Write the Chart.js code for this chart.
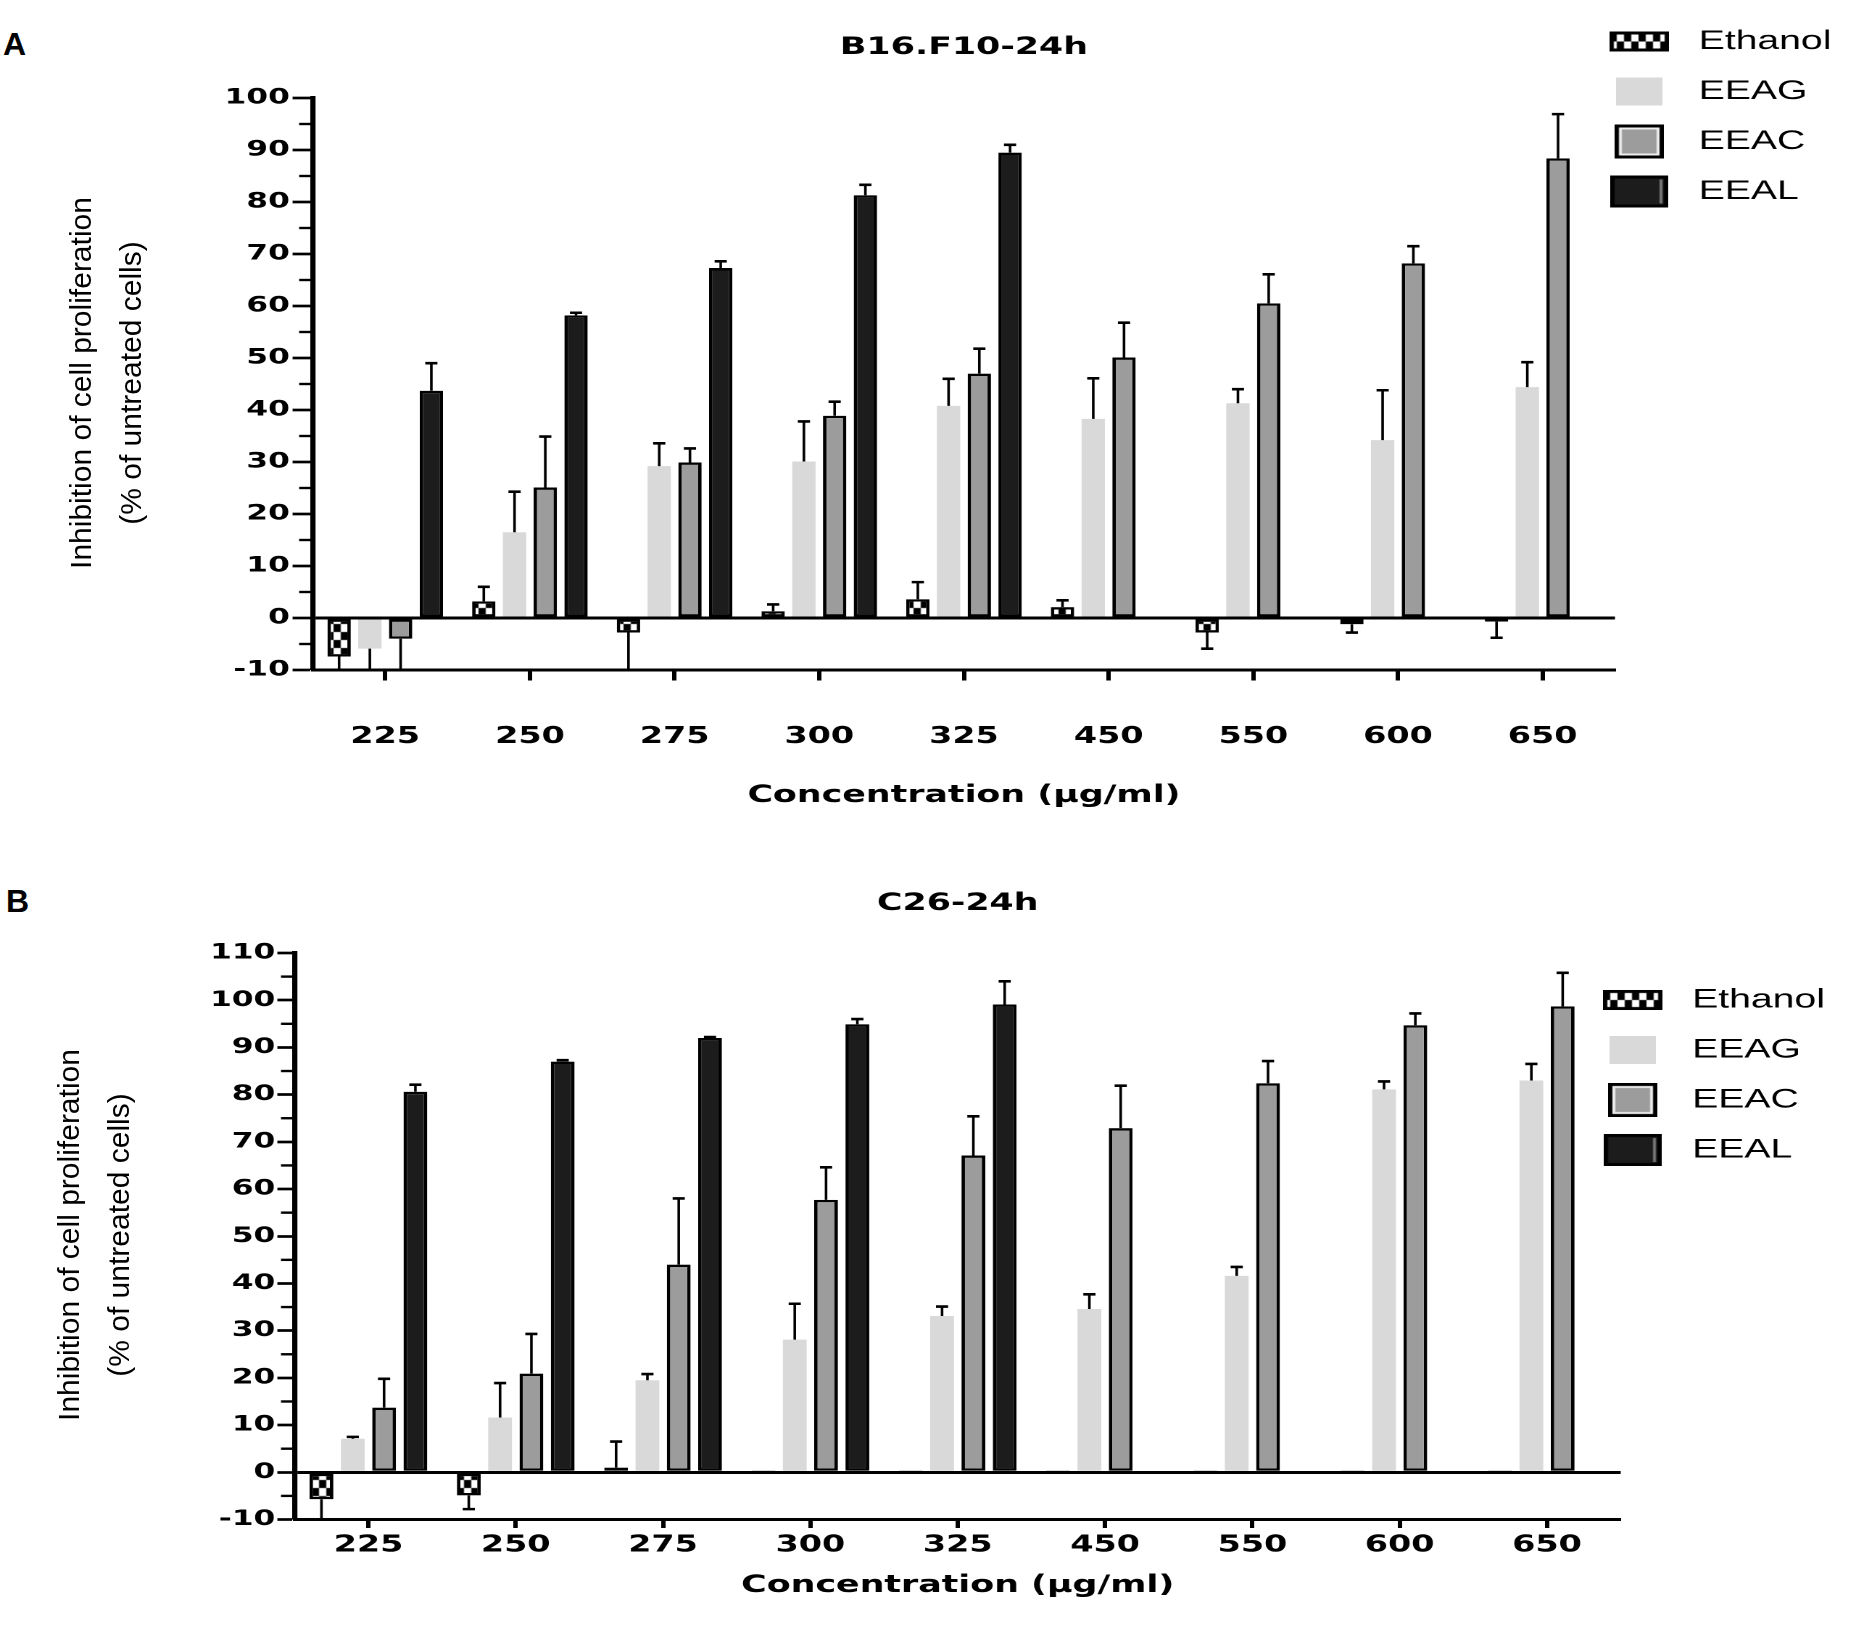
<!DOCTYPE html>
<html>
<head>
<meta charset="utf-8">
<script src="https://cdn.jsdelivr.net/npm/chart.js@4.4.1/dist/chart.umd.min.js"></script>
<style>
html,body{margin:0;padding:0;background:#fff;}
body{width:1872px;height:1629px;position:relative;overflow:hidden;}
.wrap{position:absolute;left:0;width:1291px;transform:scaleX(1.45);transform-origin:0 0;}
.panel{position:absolute;font:bold 32px "Liberation Sans",Arial,sans-serif;color:#000;line-height:37px;}
.ytitle{position:absolute;width:440px;height:100px;font:30px "Liberation Sans",Arial,sans-serif;line-height:50px;text-align:center;color:#000;transform:translate(-50%,-50%) rotate(-90deg);white-space:nowrap;}
</style>
</head>
<body>
<div class="panel" style="left:3px;top:26px">A</div>
<div class="panel" style="left:6px;top:883px">B</div>
<div class="wrap" style="top:0;height:840px"><canvas id="chartA" width="1291" height="840"></canvas></div>
<div class="wrap" style="top:840px;height:789px"><canvas id="chartB" width="1291" height="789"></canvas></div>
<div class="ytitle" style="left:106px;top:383px">Inhibition of cell proliferation<br>(% of untreated cells)</div>
<div class="ytitle" style="left:94px;top:1235px">Inhibition of cell proliferation<br>(% of untreated cells)</div>
<script>
// ---- data ----
const concentrations = ['225', '250', '275', '300', '325', '450', '550', '600', '650'];
const seriesNames = ['Ethanol', 'EEAG', 'EEAC', 'EEAL'];
const xAxisTitle = 'Concentration (µg/ml)';

// Panel A: B16.F10-24h
const titleA = 'B16.F10-24h';
const ethanolA    = [-7.4, 3.2, -2.8, 1.3, 3.6, 2.1, -2.8, -1.2, -0.7];
const ethanolAErr = [3.5, 2.8, 7.5, 1.3, 3.3, 1.3, 3.1, 1.6, 3.1];
const eeagA       = [-5.9, 16.5, 29.2, 30.1, 40.8, 38.3, 41.3, 34.2, 44.4];
const eeagAErr    = [4.5, 7.8, 4.4, 7.7, 5.2, 7.8, 2.7, 9.6, 4.8];
const eeacA       = [-4.0, 25.1, 29.9, 38.9, 47.0, 50.1, 60.5, 68.2, 88.4];
const eeacAErr    = [6.5, 9.8, 2.7, 2.7, 4.8, 6.7, 5.6, 3.3, 8.5];
const eealA       = [43.7, 58.2, 67.3, 81.3, 89.5, null, null, null, null];
const eealAErr    = [5.3, 0.5, 1.3, 2.0, 1.5, null, null, null, null];

// Panel B: C26-24h
const titleB = 'C26-24h';
const ethanolB    = [-5.7, -4.9, 1.0, 0.4, 0.4, 0.4, 0.4, 0.4, 0.4];
const ethanolBErr = [4.5, 2.9, 5.5, 0, 0, 0, 0, 0, 0];
const eeagB       = [7.1, 11.6, 19.5, 28.1, 33.1, 34.6, 41.6, 81.1, 83.0];
const eeagBErr    = [0.4, 7.3, 1.3, 7.6, 2.0, 3.1, 1.9, 1.7, 3.5];
const eeacB       = [13.7, 20.9, 44.0, 57.7, 67.1, 72.9, 82.4, 94.7, 98.7];
const eeacBErr    = [6.1, 8.4, 14.0, 6.9, 8.3, 9.0, 4.7, 2.5, 7.1];
const eealB       = [80.6, 87.0, 92.0, 94.9, 99.1, null, null, null, null];
const eealBErr    = [1.5, 0.3, 0.2, 1.1, 4.9, null, null, null, null];

// ---- styles ----
function makeTile() {
  const c = document.createElement('canvas'); c.width = 10; c.height = 16;
  const g = c.getContext('2d');
  g.fillStyle = '#fff'; g.fillRect(0, 0, 10, 16);
  g.fillStyle = '#000'; g.fillRect(0, 0, 5, 8); g.fillRect(5, 8, 5, 8);
  return c;
}
const tile = makeTile();
const checker = document.createElement('canvas').getContext('2d').createPattern(tile, 'repeat');

function icon(w, h, draw) {
  const c = document.createElement('canvas'); c.width = w; c.height = h;
  draw(c.getContext('2d'), w, h); return c;
}
const legendIcons = [
  icon(41, 20, (g, w, h) => { g.fillStyle = '#fff'; g.fillRect(0, 0, w, h); g.fillStyle = '#000';
    for (let x = 0; x < w; x += 10) { g.fillRect(x, 0, 5, h / 2); g.fillRect(x + 5, h / 2, 5, h / 2); }
    g.strokeStyle = '#000'; g.lineWidth = 3; g.strokeRect(1.5, 1.5, w - 3, h - 3); }),
  icon(32, 28, (g, w, h) => { g.fillStyle = '#d9d9d9'; g.fillRect(0, 0, w, h); }),
  icon(34, 34, (g, w, h) => { g.fillStyle = '#000'; g.fillRect(0, 0, w, h); g.fillStyle = '#eee'; g.fillRect(3, 3, w - 6, h - 6); g.fillStyle = '#9c9c9c'; g.fillRect(5, 5, w - 10, h - 10); }),
  icon(40, 32, (g, w, h) => { g.fillStyle = '#000'; g.fillRect(0, 0, w, h); g.fillStyle = '#1c1c1c'; g.fillRect(3, 3, w - 6, h - 6); g.fillStyle = '#777'; g.fillRect(w - 6, 4, 2, h - 8); })
];

const errorBars = {
  id: 'errorBars',
  afterDatasetsDraw(chart, args, opts) {
    const {ctx, chartArea: a} = chart;
    const y = chart.scales.y;
    ctx.save();
    ctx.beginPath(); ctx.rect(a.left, 0, a.right - a.left, a.bottom); ctx.clip();
    ctx.strokeStyle = '#000';
    chart.data.datasets.forEach((ds, i) => {
      const meta = chart.getDatasetMeta(i);
      if (!ds.errors || meta.hidden) return;
      meta.data.forEach((bar, j) => {
        const v = ds.data[j], e = ds.errors[j];
        if (v == null || !e) return;
        const s = v < 0 ? -1 : 1;
        const y0 = y.getPixelForValue(v), y1 = y.getPixelForValue(v + s * e);
        ctx.lineWidth = opts.stem;
        ctx.beginPath(); ctx.moveTo(bar.x, y0); ctx.lineTo(bar.x, y1); ctx.stroke();
        ctx.lineWidth = opts.cap;
        ctx.beginPath(); ctx.moveTo(bar.x - opts.capHalf, y1); ctx.lineTo(bar.x + opts.capHalf, y1); ctx.stroke();
      });
    });
    ctx.restore();
  }
};

const minorTicks = {
  id: 'minorTicks',
  afterDraw(chart, args, opts) {
    const y = chart.scales.y, ctx = chart.ctx, left = chart.chartArea.left;
    ctx.save(); ctx.strokeStyle = '#000'; ctx.lineWidth = opts.width;
    for (let v = y.min + 5; v < y.max; v += 10) {
      const py = y.getPixelForValue(v);
      ctx.beginPath(); ctx.moveTo(left - opts.length, py); ctx.lineTo(left, py); ctx.stroke();
    }
    ctx.restore();
  }
};

const legendPlace = {
  id: 'legendPlace',
  afterLayout(chart, args, opts) {
    const lg = chart.legend; if (!lg) return;
    lg.left = opts.left; lg.right = chart.width; lg.top = opts.top;
  }
};

function build(id, cfg) {
  const datasets = [
    {label: seriesNames[0], data: cfg.ethanol, errors: cfg.ethanolErr, backgroundColor: checker, borderColor: '#000', borderWidth: 2.4, borderSkipped: false},
    {label: seriesNames[1], data: cfg.eeag, errors: cfg.eeagErr, backgroundColor: '#d9d9d9', borderWidth: 0},
    {label: seriesNames[2], data: cfg.eeac, errors: cfg.eeacErr, backgroundColor: '#9c9c9c', borderColor: '#000', borderWidth: 2.4, borderSkipped: false},
    {label: seriesNames[3], data: cfg.eeal, errors: cfg.eealErr, backgroundColor: '#1c1c1c', borderColor: '#000', borderWidth: 2.4, borderSkipped: false}
  ];
  return new Chart(document.getElementById(id), {
    type: 'bar',
    data: {labels: concentrations, datasets},
    plugins: [errorBars, minorTicks, legendPlace],
    options: {
      responsive: false,
      animation: false,
      devicePixelRatio: 2,
      datasets: {bar: {categoryPercentage: 0.85, barPercentage: 0.76}},
      layout: {padding: {left: cfg.padLeft, right: cfg.padRight, top: 0, bottom: cfg.padBottom}},
      plugins: {
        tooltip: {enabled: false},
        title: {display: true, text: cfg.title, color: '#000', fullSize: false,
          font: {family: 'DejaVu Sans', weight: 'bold', size: 24},
          padding: {top: cfg.titleTop, bottom: cfg.titleBottom}},
        legend: {
          display: true, position: 'right', align: 'start', maxWidth: 170,
          labels: {
            usePointStyle: true, pointStyleWidth: 55, padding: 23, color: '#000',
            font: {family: 'Liberation Sans', size: 27},
            generateLabels: (chart) => Chart.defaults.plugins.legend.labels.generateLabels(chart)
              .map((it, i) => Object.assign(it, {pointStyle: legendIcons[i]}))
          }
        },
        errorBars: {stem: 1.8, cap: 2.6, capHalf: 4.2},
        minorTicks: {length: 9.5, width: 2.4},
        legendPlace: {left: cfg.legendLeft, top: cfg.legendTop}
      },
      scales: {
        x: {
          offset: true,
          grid: {display: true, drawOnChartArea: false, drawTicks: true, offset: false,
            tickLength: cfg.xTickLen, tickBorderDash: [cfg.xDot, 2000], tickWidth: 3, tickColor: '#000', color: 'rgba(0,0,0,0)'},
          border: {display: true, color: '#000', width: 3},
          ticks: {color: '#000', font: {family: 'DejaVu Sans', weight: 'bold', size: 23},
            padding: 0, maxRotation: 0, autoSkip: false},
          title: {display: true, text: xAxisTitle, color: '#000',
            font: {family: 'DejaVu Sans', weight: 'bold', size: 24},
            padding: {top: cfg.xTitleTop, bottom: 0}}
        },
        y: {
          min: -10, max: cfg.yMax,
          ticks: {stepSize: 10, color: '#000', padding: cfg.yTickPad,
            font: {family: 'DejaVu Sans', weight: 'bold', size: 21.5}},
          grid: {drawOnChartArea: true, drawTicks: true, tickLength: cfg.yTickLen, tickWidth: 2.7, tickColor: '#000',
            color: c => (c.tick && c.tick.value === 0) ? '#000' : 'rgba(0,0,0,0)',
            lineWidth: c => (c.tick && c.tick.value === 0) ? 3 : 0},
          border: {display: true, color: '#000', width: 3.6}
        }
      }
    }
  });
}

build('chartA', {
  title: titleA, yMax: 100,
  ethanol: ethanolA, ethanolErr: ethanolAErr, eeag: eeagA, eeagErr: eeagAErr,
  eeac: eeacA, eeacErr: eeacAErr, eeal: eealA, eealErr: eealAErr,
  padLeft: 152.9, padRight: 7.2, padBottom: 29.6,
  titleTop: 33.6, titleBottom: 35.6,
  xTickLen: 53.2, xDot: 9, xTitleTop: 30.8,
  yTickLen: 14, yTickPad: 2,
  legendLeft: 1080, legendTop: 5
});
build('chartB', {
  title: titleB, yMax: 110,
  ethanol: ethanolB, ethanolErr: ethanolBErr, eeag: eeagB, eeagErr: eeagBErr,
  eeac: eeacB, eeacErr: eeacBErr, eeal: eealB, eealErr: eealBErr,
  padLeft: 143.4, padRight: 3.3, padBottom: 28.6,
  titleTop: 49.6, titleBottom: 34.6,
  xTickLen: 12.3, xDot: 7, xTitleTop: 12.2,
  yTickLen: 12, yTickPad: 1.5,
  legendLeft: 1075.5, legendTop: 123.5
});
</script>
</body>
</html>
